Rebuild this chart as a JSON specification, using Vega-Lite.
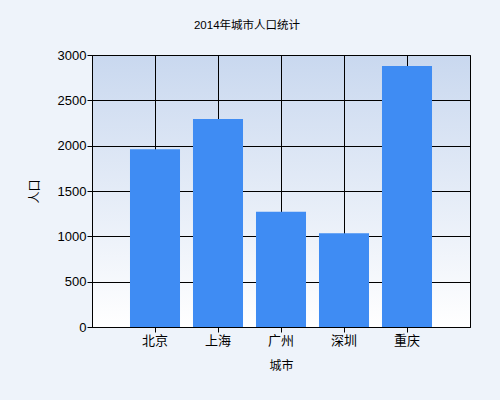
{
  "$schema": "https://vega.github.io/schema/vega-lite/v6.json",
  "description": "2014 city population bar chart",
  "autosize": "none",
  "padding": {"left": 92, "top": 55, "right": 30, "bottom": 73},
  "width": 378,
  "height": 272,
  "background": "#eef3fa",
  "title": {
    "text": "2014年城市人口统计",
    "fontSize": 11.5,
    "fontWeight": "normal",
    "color": "black",
    "anchor": "middle",
    "offset": 18,
    "dx": -34
  },
  "data": {
    "values": [
      {"city": "北京", "population": 1961},
      {"city": "上海", "population": 2294},
      {"city": "广州", "population": 1270},
      {"city": "深圳", "population": 1035},
      {"city": "重庆", "population": 2880}
    ]
  },
  "mark": {"type": "bar", "color": "#3f8cf3"},
  "encoding": {
    "x": {
      "field": "city",
      "type": "nominal",
      "sort": null,
      "title": "城市",
      "scale": {"paddingInner": 0.206, "paddingOuter": 0.603},
      "axis": {"labelAngle": 0, "labelFontSize": 13, "labelPadding": 2, "titlePadding": 13, "grid": true}
    },
    "y": {
      "field": "population",
      "type": "quantitative",
      "title": "人口",
      "scale": {"domain": [0, 3000], "nice": false},
      "axis": {"values": [0, 500, 1000, 1500, 2000, 2500, 3000], "format": "d", "labelFontSize": 13, "labelPadding": 1, "titlePadding": 16}
    }
  },
  "config": {
    "font": "Liberation Sans, Noto Sans CJK SC",
    "view": {
      "stroke": "black",
      "strokeWidth": 1,
      "fill": {
        "gradient": "linear",
        "x1": 0, "y1": 0, "x2": 0, "y2": 1,
        "stops": [
          {"offset": 0, "color": "#c9d8ef"},
          {"offset": 1, "color": "#ffffff"}
        ]
      }
    },
    "axis": {
      "domainColor": "black",
      "tickColor": "black",
      "tickSize": 5,
      "gridColor": "black",
      "gridOpacity": 1,
      "labelColor": "black",
      "titleColor": "black",
      "titleFontSize": 12,
      "titleFontWeight": "normal"
    }
  }
}
